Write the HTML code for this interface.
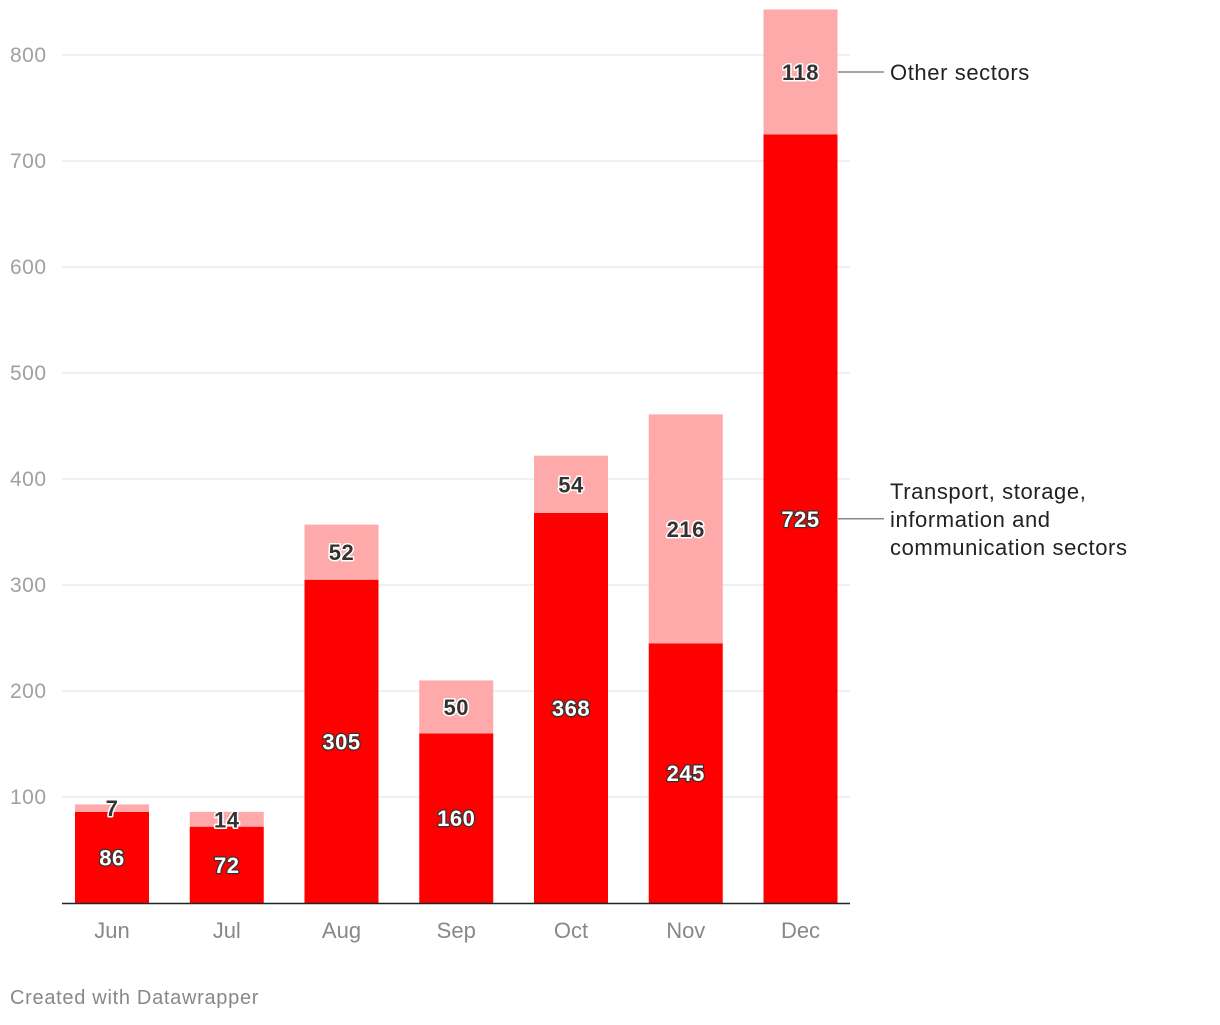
<!DOCTYPE html>
<html><head><meta charset="utf-8"><style>
body{margin:0;background:#fff;width:1220px;height:1020px;overflow:hidden;font-family:"Liberation Sans",sans-serif}
svg text{font-family:"Liberation Sans",sans-serif}
</style></head><body>
<svg id="chart" width="1220" height="1020" xmlns="http://www.w3.org/2000/svg"></svg>
<script>
const categories=["Jun","Jul","Aug","Sep","Oct","Nov","Dec"];
const transport=[86,72,305,160,368,245,725];
const other=[7,14,52,50,54,216,118];
const yTicks=[100,200,300,400,500,600,700,800];
const svg=document.getElementById('chart');
const NS="http://www.w3.org/2000/svg";
const y=v=>903-v*1.06;
const xc=i=>112+i*114.75;
const bw=74;
function mk(tag,attrs,txt){const e=document.createElementNS(NS,tag);for(const k in attrs)e.setAttribute(k,attrs[k]);if(txt!==undefined)e.textContent=txt;svg.appendChild(e);return e;}
yTicks.forEach(t=>{
  const l=mk('line',{x1:62,x2:850,y1:y(t),y2:y(t),stroke:'#e2e2e2','stroke-width':1});
  
  
  const tx=mk('text',{x:10,y:y(t)+7,'font-size':21,fill:'#a0a0a0','letter-spacing':0.5},String(t));
  
  
});
categories.forEach((c,i)=>{
  const x=xc(i)-bw/2;
  const r1=mk('rect',{x:x,y:y(transport[i]),width:bw,height:y(0)-y(transport[i]),fill:'#ff0000'});
  
  
  const top=transport[i]+other[i];
  const r2=mk('rect',{x:x,y:y(top),width:bw,height:y(transport[i])-y(top),fill:'#ffaaaa'});
  
  
  const t1=mk('text',{x:xc(i),y:y(transport[i]/2)+8,'font-size':22,'font-weight':'bold',fill:'#fff','text-anchor':'middle',stroke:'#333','stroke-width':2.5,'paint-order':'stroke','stroke-linejoin':'round','letter-spacing':0.5},String(transport[i]));
  
  
  const t2=mk('text',{x:xc(i),y:y(transport[i]+other[i]/2)+8,'font-size':22,'font-weight':'bold',fill:'#333','text-anchor':'middle',stroke:'#fff','stroke-width':3,'paint-order':'stroke','stroke-linejoin':'round','letter-spacing':0.5},String(other[i]));
  
  
  const xl=mk('text',{x:xc(i),y:938,'font-size':22,fill:'#888','text-anchor':'middle'},c);
  
  
});
const ax=mk('line',{x1:62,x2:850,y1:903.5,y2:903.5,stroke:'#222','stroke-width':1.5});


const last=categories.length-1;
const l1=mk('line',{x1:838,x2:884,y1:y(transport[last]+other[last]/2),y2:y(transport[last]+other[last]/2),stroke:'#888','stroke-width':1.5});


const lt1=mk('text',{x:890,y:y(transport[last]+other[last]/2)+8,'font-size':22,fill:'#222','letter-spacing':0.6},'Other sectors');


const ly=y(transport[last]/2);
const l2=mk('line',{x1:838,x2:884,y1:ly,y2:ly,stroke:'#888','stroke-width':1.5});


['Transport, storage,','information and','communication sectors'].forEach((s,k)=>{
  const t=mk('text',{x:890,y:ly-28+8+k*28,'font-size':22,fill:'#222','letter-spacing':0.6},s);
  
  
});
const f=mk('text',{x:10,y:1004,'font-size':20,fill:'#888','letter-spacing':0.7},'Created with Datawrapper');


</script>
</body></html>
